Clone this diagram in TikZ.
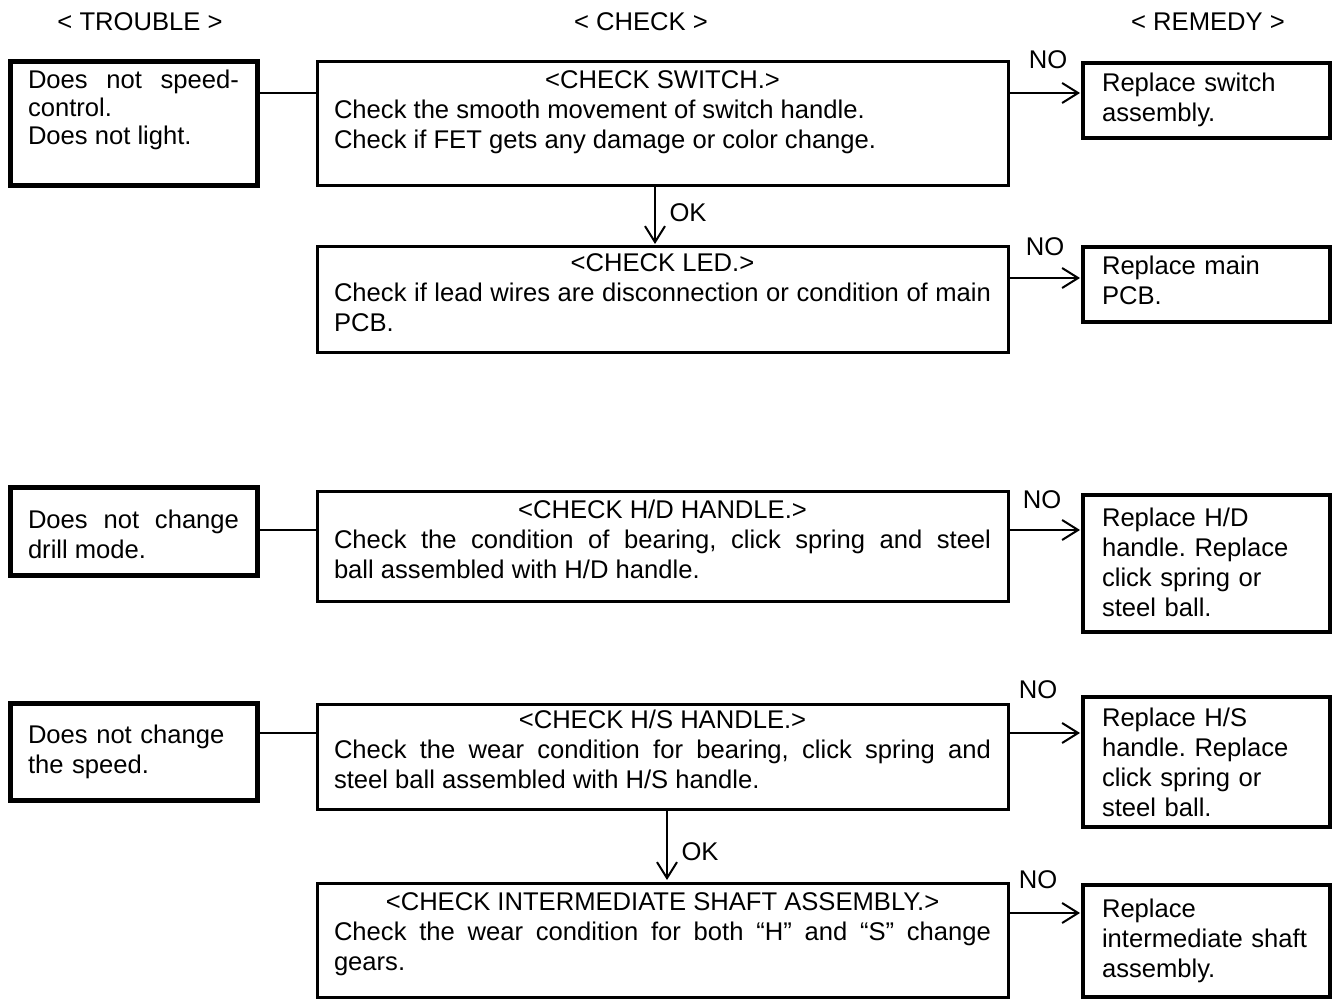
\documentclass[tikz,border=0pt]{standalone}
\usepackage{fontspec}
\setmainfont{Liberation Sans}
\usetikzlibrary{arrows.meta}
\hyphenpenalty=10000
\tolerance=10000
\frenchspacing
\begin{document}
\begin{tikzpicture}[x=0.5pt,y=-0.5pt,
		font=\fontsize{12.8}{15}\selectfont,
		flowbox/.style={draw,anchor=north west,inner ysep=0pt,outer sep=0pt},
		trouble/.style={flowbox,line width=2.5pt,text width=105.5pt,inner xsep=9pt,align=justify},
		check/.style={flowbox,line width=1.5pt,text width=328.5pt,inner xsep=8.5pt,align=justify},
		remedy/.style={flowbox,line width=1.6pt,text width=104.5pt,inner xsep=9.5pt,align=left},
		arr/.style={-{Straight Barb[length=8pt,width=10pt]},line width=1pt,shorten >=1.5pt},
		link/.style={line width=1pt}]
		\useasboundingbox (0,0) rectangle (1332,999);
		\node (htrouble) at (140,22) {< TROUBLE >};
		\node (hcheck) at (641,22) {< CHECK >};
		\node (hremedy) at (1208,22) {< REMEDY >};
		\node[trouble,text height=13.25pt,text depth=48.75pt,font=\fontsize{12.8}{14}\selectfont] (tlight) at (10,62) {Does not speed-control.\par Does not light.};
		\node[check,text height=13.5pt,text depth=48.5pt] (sw) at (317,62) {{\centering <CHECK SWITCH.>\par}Check the smooth movement of switch handle.\par Check if FET gets any damage or color change.};
		\node[remedy,text height=14.5pt,text depth=23pt] (rsw) at (1083,63) {Replace switch assembly.};
		\node[check,text height=12.5pt,text depth=40.5pt] (led) at (317,247) {{\centering <CHECK LED.>\par}Check if lead wires are disconnection or condition of main PCB.};
		\node[remedy,text height=14pt,text depth=23.5pt] (rpcb) at (1083,247) {Replace main PCB.};
		\node[trouble,text height=20.5pt,text depth=23pt] (tmode) at (10,488) {Does not change drill mode.};
		\node[check,text height=13pt,text depth=41.5pt] (hd) at (317,492) {{\centering <CHECK H/D HANDLE.>\par}Check the condition of bearing, click spring and steel\linebreak ball assembled with H/D handle.};
		\node[remedy,text height=15.5pt,text depth=53pt] (rhd) at (1083,495) {Replace H/D handle. Replace click spring or steel ball.};
		\node[trouble,align=left,text height=20pt,text depth=28.5pt] (tspeed) at (10,703) {Does not change the speed.};
		\node[check,text height=12pt,text depth=40.5pt] (hs) at (317,704) {{\centering <CHECK H/S HANDLE.>\par}Check the wear condition for bearing, click spring and\linebreak steel ball assembled with H/S handle.};
		\node[remedy,text height=14.5pt,text depth=50.5pt] (rhs) at (1083,697) {Replace H/S handle. Replace click spring or steel ball.};
		\node[check,text height=13.5pt,text depth=43.5pt] (shaft) at (317,883) {{\centering <CHECK INTERMEDIATE SHAFT ASSEMBLY.>\par}Check the wear condition for both “H” and “S” change gears.};
		\node[remedy,text height=16pt,text depth=40pt] (rshaft) at (1083,885) {Replace intermediate shaft assembly.};
		\draw[link] ([yshift=-15.5pt]tlight.north east) -- ([yshift=-15.5pt]tlight.north east -| sw.west);
		\draw[link] ([yshift=-21pt]tmode.north east) -- ([yshift=-21pt]tmode.north east -| hd.west);
		\draw[link] ([yshift=-15pt]tspeed.north east) -- ([yshift=-15pt]tspeed.north east -| hs.west);
		\draw[arr] ([yshift=-15.5pt]sw.north east) -- ([yshift=-15.5pt]sw.north east -| rsw.west);
		\draw[arr] ([yshift=-15.5pt]led.north east) -- ([yshift=-15.5pt]led.north east -| rpcb.west);
		\draw[arr] ([yshift=-19pt]hd.north east) -- ([yshift=-19pt]hd.north east -| rhd.west);
		\draw[arr] ([yshift=-14.5pt]hs.north east) -- ([yshift=-14.5pt]hs.north east -| rhs.west);
		\draw[arr] ([yshift=-15pt]shaft.north east) -- ([yshift=-15pt]shaft.north east -| rshaft.west);
		\draw[arr] ([xshift=-3.75pt]sw.south) -- ([xshift=-3.75pt]sw.south |- led.north);
		\draw[arr] ([xshift=2.25pt]hs.south) -- ([xshift=2.25pt]hs.south |- shaft.north);
		\node (no1) at (1048,60) {NO};
		\node (no2) at (1045,247) {NO};
		\node (no3) at (1042,500) {NO};
		\node (no4) at (1038,690) {NO};
		\node (no5) at (1038,880) {NO};
		\node (ok1) at (688,213) {OK};
		\node (ok2) at (700,852) {OK};
	\end{tikzpicture}
\end{document}
